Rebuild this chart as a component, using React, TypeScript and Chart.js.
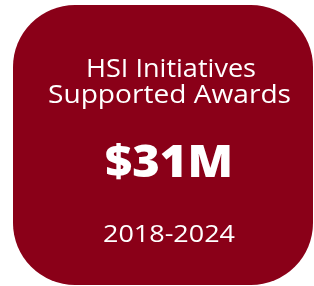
import React, { useEffect, useRef } from "react";
import { Chart, registerables } from "chart.js";

Chart.register(...registerables);

const titleLines: string[] = ["HSI Initiatives", "Supported Awards"];
const valueLabel: string[] = ["$31M"];
const periodLabel: string[] = ["2018-2024"];

const CARD_COLOR = "#8A0018";
const FONT = "'Open Sans', 'DejaVu Sans', sans-serif";

function fitText(ctx: CanvasRenderingContext2D, text: string, cx: number, y: number, width: number) {
  const w = ctx.measureText(text).width;
  const sx = w > 0 ? width / w : 1;
  ctx.save();
  ctx.translate(cx, y);
  ctx.scale(sx, 1);
  ctx.fillText(text, 0, 0);
  ctx.restore();
}

const cardPlugin = {
  id: "statCard",
  beforeDraw(chart: any) {
    const ctx = chart.ctx as CanvasRenderingContext2D;
    ctx.save();
    ctx.fillStyle = CARD_COLOR;
    ctx.beginPath();
    (ctx as any).roundRect(13, 5, 300, 280, 62);
    ctx.fill();

    ctx.fillStyle = "#ffffff";
    ctx.textAlign = "center";
    ctx.textBaseline = "alphabetic";

    ctx.font = `400 25px ${FONT}`;
    fitText(ctx, titleLines[0], 171, 77, 170);
    fitText(ctx, titleLines[1], 169.5, 103, 243);

    ctx.font = `800 45px ${FONT}`;
    fitText(ctx, valueLabel[0], 169, 177, 128);

    ctx.font = `400 24px ${FONT}`;
    fitText(ctx, periodLabel[0], 169, 242, 132);
    ctx.restore();
  },
};

export default function App() {
  const ref = useRef<HTMLCanvasElement | null>(null);
  useEffect(() => {
    if (!ref.current) return;
    const chart = new Chart(ref.current, {
      type: "bar",
      data: { labels: [], datasets: [] },
      options: {
        responsive: false,
        animation: false,
        plugins: { legend: { display: false }, tooltip: { enabled: false }, title: { display: false } },
        scales: { x: { display: false }, y: { display: false } },
      },
      plugins: [cardPlugin],
    });
    return () => chart.destroy();
  }, []);
  return (
    <div style={{ position: "fixed", left: 0, top: 0, width: 314, height: 286, background: "#fff" }}>
      <canvas ref={ref} width={314} height={286} style={{ display: "block" }} />
    </div>
  );
}
